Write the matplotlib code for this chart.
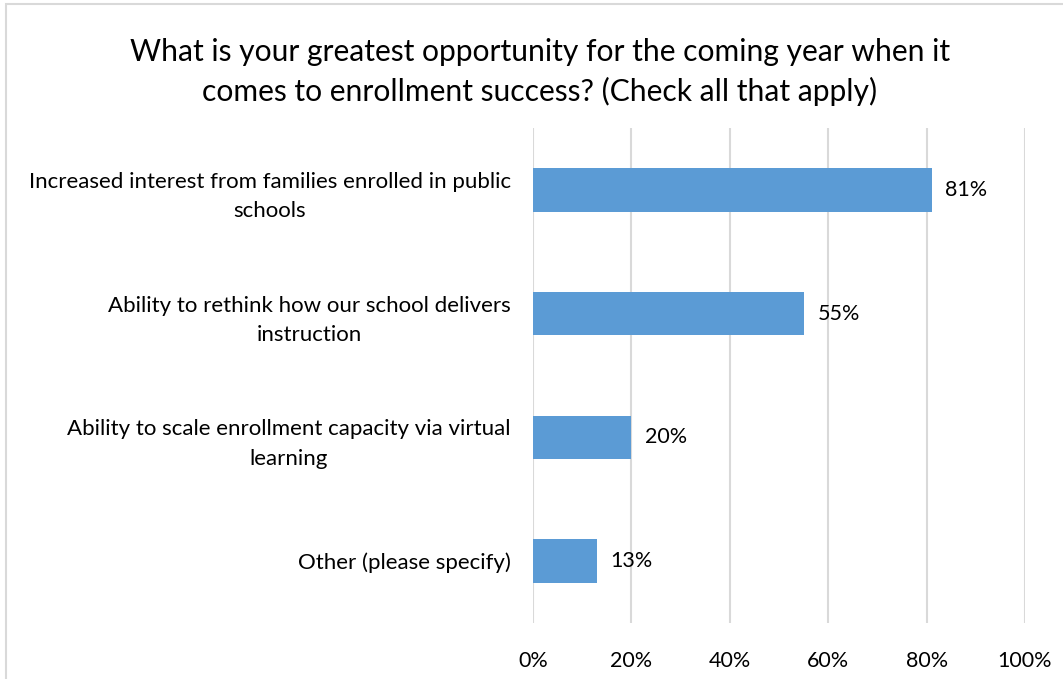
import matplotlib
matplotlib.use("Agg")
import matplotlib.pyplot as plt
from matplotlib.patches import Rectangle

categories = [
    "Increased interest from families enrolled in public\nschools",
    "Ability to rethink how our school delivers\ninstruction",
    "Ability to scale enrollment capacity via virtual\nlearning",
    "Other (please specify)",
]
values = [81, 55, 20, 13]
x_ticks = [0, 20, 40, 60, 80, 100]
x_tick_labels = ["0%", "20%", "40%", "60%", "80%", "100%"]
title = ("What is your greatest opportunity for the coming year when it\n"
         "comes to enrollment success? (Check all that apply)")

plt.rcParams["font.family"] = ["Lato", "DejaVu Sans"]

W, H = 1063, 679
fig = plt.figure(figsize=(W / 100, H / 100), dpi=100)
fig.patch.set_facecolor("white")

# light frame around the chart area
fig.add_artist(Rectangle((6 / W, -0.1), 1.2, 1 - 4 / H + 0.1,
                         transform=fig.transFigure, fill=False,
                         edgecolor="#D9D9D9", linewidth=1.5))

ax = fig.add_axes([533 / W, 1 - 623 / H, (1025 - 533) / W, (623 - 128) / H])

pos = list(range(len(categories)))
ax.barh(pos, values, height=0.35, color="#5B9BD5", zorder=3)
ax.set_ylim(len(categories) - 0.5, -0.5)
ax.set_xlim(0, 100)

for p, v in zip(pos, values):
    ax.text(v + 2.8, p, f"{v}%", va="center", ha="left",
            fontsize=15.5, color="#000000")

ax.set_xticks(x_ticks)
ax.set_xticklabels(x_tick_labels, fontsize=15.5, color="#000000")
ax.tick_params(axis="x", length=0, pad=20)
ax.set_yticks(pos)
ax.set_yticklabels(categories, fontsize=16, color="#000000",
                   multialignment="center", linespacing=1.6)
ax.tick_params(axis="y", length=0, pad=16)

ax.grid(axis="x", color="#D9D9D9", linewidth=1.5, zorder=0)
for s in ax.spines.values():
    s.set_visible(False)

fig.text(540 / W, 1 - 72 / H, title, ha="center", va="center",
         fontsize=21.6, color="#000000", linespacing=1.45)

fig.savefig("out.png", dpi=100, facecolor="white")
